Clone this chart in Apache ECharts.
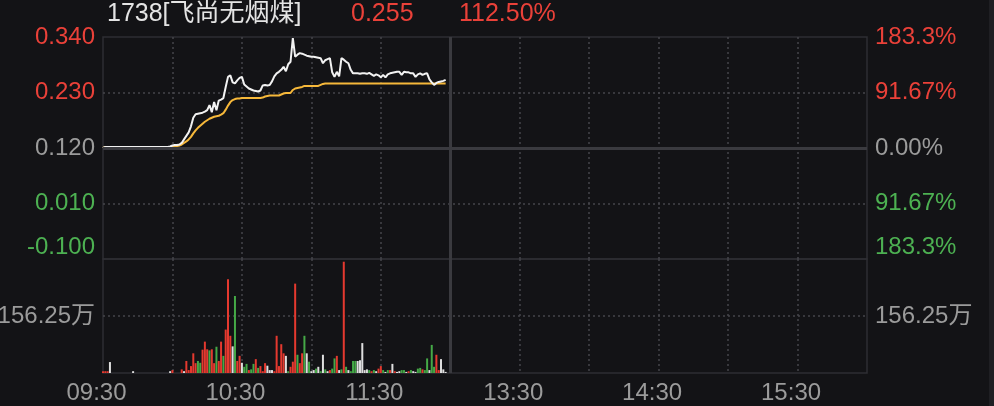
<!DOCTYPE html>
<html><head><meta charset="utf-8">
<script src="https://cdn.jsdelivr.net/npm/echarts@6/dist/echarts.min.js"></script>
<style>html,body{margin:0;padding:0;background:#131316;}#c{width:994px;height:406px;}</style>
</head><body><div id="c"></div>
<script>
// ---------- data ----------
const stockName = '1738[飞尚无烟煤]';
const prevClose = 0.120;
const xTickLabels = ['09:30', '10:30', '11:30', '13:30', '14:30', '15:30'];
const priceAxis = { min: -0.100, max: 0.340, interval: 0.110 };
const volumeAxis = { min: 0, max: 3125000, interval: 1562500 };

// minute prices 09:30 ...
const price = [
  0.120,
  0.122,0.122,0.122,0.122,0.122,0.122,0.122,0.122,0.122,0.122,
  0.122,0.122,0.122,0.122,0.122,0.122,0.122,0.122,0.122,0.122,
  0.122,0.122,0.122,0.122,0.122,0.122,0.122,0.122,
  0.123,0.125,0.126,0.126,0.127,0.130,0.137,0.144,0.151,0.163,
  0.180,0.187,0.188,0.189,0.190,0.192,0.195,0.205,0.191,0.211,
  0.195,0.214,0.216,0.219,0.241,0.261,0.264,0.250,0.248,0.254,
  0.259,0.261,0.246,0.242,0.238,0.236,0.234,0.233,0.232,0.234,
  0.244,0.245,0.244,0.245,0.252,0.262,0.268,0.271,0.275,0.281,
  0.272,0.286,0.291,0.338,0.301,0.305,0.308,0.307,0.305,0.303,
  0.302,0.301,0.301,0.300,0.299,0.298,0.288,0.294,0.296,0.298,
  0.270,0.261,0.271,0.262,0.298,0.295,0.291,0.288,0.275,0.268,
  0.268,0.268,0.267,0.268,0.268,0.267,0.269,0.266,0.263,0.266,
  0.264,0.260,0.265,0.260,0.266,0.268,0.269,0.270,0.271,0.271,
  0.265,0.271,0.270,0.270,0.268,0.268,0.261,0.266,0.268,0.265,
  0.267,0.268,0.256,0.250,0.245,0.249,0.251,0.252,0.253,0.255
];

// average price line
const avgPrice = [
  0.120,
  0.122,0.122,0.122,0.122,0.122,0.122,0.122,0.122,0.122,0.122,
  0.122,0.122,0.122,0.122,0.122,0.122,0.122,0.122,0.122,0.122,
  0.122,0.122,0.122,0.122,0.122,0.122,0.122,0.122,0.122,
  0.123,0.123,0.124,0.125,0.127,0.130,0.133,0.137,0.142,0.149,
  0.155,0.160,0.164,0.168,0.172,0.175,0.178,0.180,0.182,0.183,
  0.184,0.186,0.189,0.196,0.204,0.211,0.215,0.217,0.218,0.218,
  0.219,0.219,0.219,0.219,0.219,0.219,0.219,0.219,0.219,
  0.220,0.222,0.223,
  0.224,0.224,0.224,0.224,0.224,
  0.226,0.228,0.229,0.229,0.229,0.235,0.238,0.239,0.240,0.241,
  0.243,0.243,0.243,0.243,0.243,0.243,0.243,
  0.245,0.247,
  0.248,0.248,0.248,0.248,0.248,0.248,0.248,0.248,0.248,0.248,
  0.248,0.248,0.248,0.248,0.248,0.248,0.248,0.248,0.248,0.248,
  0.248,0.248,0.248,0.248,0.248,0.248,0.248,0.248,0.248,0.248,
  0.248,0.248,0.248,0.248,0.248,0.248,0.248,0.248,0.248,0.248,
  0.248,0.248,0.248,0.248,0.248,0.248,0.248,0.248,0.248,0.248,
  0.248,0.248,0.248
];

// volume per minute, in 万 (10,000 shares)
const volume = [
  5,5,5,30,0,0,0,0,0,0,
  0,0,0,5,0,0,0,0,0,0,
  0,0,0,0,0,0,0,0,0,5,
  8,0,0,0,10,5,33,8,19,54,
  27,33,28,64,86,65,62,65,27,72,
  33,86,47,119,257,102,73,211,33,47,
  28,17,25,8,10,25,38,14,19,5,
  27,20,8,8,5,102,19,79,54,47,
  5,17,31,245,50,27,54,102,54,31,
  5,8,12,17,5,50,10,5,8,12,
  40,47,8,10,305,17,8,5,33,33,
  33,35,82,8,10,8,5,8,5,12,
  19,8,3,8,8,25,5,3,5,8,
  8,3,5,8,5,3,12,14,10,8,
  40,8,77,17,50,8,38,10,3
];
// r = up (red), g = down (green), w = unchanged (white)
const volumeDir = [
  'r','r','r','w','w','w','w','w','w','w',
  'w','w','w','w','w','w','w','w','w','w',
  'w','w','w','w','w','w','w','w','w','w',
  'r','w','w','w','r','w','r','r','r','r',
  'r','g','g','r','r','r','g','r','r','g',
  'r','r','g','r','r','r','w','g','r','r',
  'w','g','g','r','g','g','r','g','r','r',
  'r','w','w','w','r','r','r','r','r','w',
  'g','r','r','r','g','r','r','g','w','g',
  'w','w','g','w','g','w','g','w','r','g',
  'g','r','w','g','r','g','w','g','g','g',
  'w','w','w','w','w','g','r','g','w','r',
  'r','g','w','g','r','w','r','w','w','g',
  'g','w','r','g','w','w','g','g','r','g',
  'g','w','g','g','r','r','w','w','w'
];

// ---------- build ----------
function pad(n) { return (n < 10 ? '0' : '') + n; }
const categories = [];
for (let m = 9 * 60 + 30; m <= 12 * 60; m++) categories.push(pad(Math.floor(m / 60)) + ':' + pad(m % 60));
for (let m = 13 * 60 + 1; m <= 16 * 60; m++) categories.push(pad(Math.floor(m / 60)) + ':' + pad(m % 60));
const breakCat = categories[150];

const C = {
  bg: '#131316', red: '#ea4139', green: '#4db152', gray: '#9b9b9b', title: '#e4e4e4',
  border: '#2e2e33', dot: '#46464b', thick: '#3a3a3f', white: '#f2f2f2', yellow: '#f6b83a',
  barRed: '#e5392f', barGreen: '#45a947', barWhite: '#dedede'
};
const FONT = '"Liberation Sans", Arial, Helvetica, "Noto Sans CJK SC", sans-serif';
const dirColor = { r: C.barRed, g: C.barGreen, w: C.barWhite };

const lastPrice = price[price.length - 1];
const lastPct = (lastPrice - prevClose) / prevClose * 100;

const eps = 1e-6;
function priceCls(v, isMin) {
  if (v > prevClose + eps) return 'up';
  if (v < prevClose - eps) return isMin ? 'dnb' : 'dn';
  return 'flat';
}
function pctText(v) {
  const p = Math.abs(v - prevClose) / prevClose * 100;
  return (p >= 100 ? p.toFixed(1) : p.toFixed(2)) + '%';
}
const labelRich = {
  up: { color: C.red, fontSize: 24, fontFamily: FONT },
  flat: { color: C.gray, fontSize: 24, fontFamily: FONT },
  dn: { color: C.green, fontSize: 24, fontFamily: FONT },
  dnb: { color: C.green, fontSize: 24, fontFamily: FONT, padding: [0, 0, 24, 0] }
};
const hideLine = { show: false };
const xSplit = {
  show: true,
  interval: (idx) => idx % 30 === 0 && idx !== 0 && idx !== 150 && idx !== 330,
  lineStyle: { color: C.dot, width: 1.5, type: [2, 3] }
};
const T = 'rgba(0,0,0,0)';

const option = {
  backgroundColor: C.bg,
  animation: false,
  title: [
    { text: stockName, left: 107, top: 2, padding: 0, textStyle: { color: C.title, fontSize: 25, fontWeight: 'normal', fontFamily: FONT } },
    { text: lastPrice.toFixed(3), left: 351, top: 2, padding: 0, textStyle: { color: C.red, fontSize: 25, fontWeight: 'normal', fontFamily: FONT } },
    { text: lastPct.toFixed(2) + '%', left: 459, top: 2, padding: 0, textStyle: { color: C.red, fontSize: 25, fontWeight: 'normal', fontFamily: FONT } }
  ],
  graphic: [
    { type: 'rect', right: 0, top: 0, shape: { width: 5, height: 406 }, style: { fill: '#1f1f23' }, silent: true }
  ],
  grid: [
    { left: 103, right: 127, top: 37, height: 222, outerBoundsMode: 'none', containLabel: false,
      show: true, borderColor: C.border, borderWidth: 1.5, backgroundColor: 'transparent' },
    { left: 103, right: 127, top: 259, height: 114, outerBoundsMode: 'none', containLabel: false,
      show: true, borderColor: C.border, borderWidth: 1.5, backgroundColor: 'transparent' }
  ],
  xAxis: [
    { type: 'category', gridIndex: 0, data: categories, boundaryGap: false,
      axisLine: hideLine, axisTick: hideLine, axisLabel: { show: false }, splitLine: xSplit },
    { type: 'category', gridIndex: 1, data: categories, boundaryGap: false,
      axisLine: hideLine, axisTick: hideLine, splitLine: xSplit,
      axisLabel: { show: true, interval: (idx, val) => xTickLabels.indexOf(val) >= 0,
        color: C.gray, fontSize: 24, fontFamily: FONT, margin: 8, padding: [0, 13, 0, 0] } }
  ],
  yAxis: [
    { type: 'value', gridIndex: 0, position: 'left', min: priceAxis.min, max: priceAxis.max, interval: priceAxis.interval,
      axisLine: hideLine, axisTick: hideLine,
      splitLine: { show: true, lineStyle: { color: [T, C.dot, T, C.dot, T], width: 1.5, type: [2, 3] } },
      axisLabel: { margin: 8, fontSize: 24, fontFamily: FONT, rich: labelRich,
        formatter: (v) => '{' + priceCls(v, Math.abs(v - priceAxis.min) < eps) + '|' + v.toFixed(3) + '}' } },
    { type: 'value', gridIndex: 0, position: 'right', min: priceAxis.min, max: priceAxis.max, interval: priceAxis.interval,
      axisLine: hideLine, axisTick: hideLine, splitLine: { show: false },
      axisLabel: { margin: 8, fontSize: 24, fontFamily: FONT, rich: labelRich,
        formatter: (v) => '{' + priceCls(v, Math.abs(v - priceAxis.min) < eps) + '|' + pctText(v) + '}' } },
    { type: 'value', gridIndex: 1, position: 'left', min: volumeAxis.min, max: volumeAxis.max, interval: volumeAxis.interval,
      axisLine: hideLine, axisTick: hideLine,
      splitLine: { show: true, lineStyle: { color: [T, C.dot, T], width: 1.5, type: [2, 3] } },
      axisLabel: { margin: 8, fontSize: 24, fontFamily: FONT, color: C.gray,
        formatter: (v) => (v > 0 && v < volumeAxis.max) ? (v / 10000) + '万' : '' } },
    { type: 'value', gridIndex: 1, position: 'right', min: volumeAxis.min, max: volumeAxis.max, interval: volumeAxis.interval,
      axisLine: hideLine, axisTick: hideLine, splitLine: { show: false },
      axisLabel: { margin: 8, fontSize: 24, fontFamily: FONT, color: C.gray,
        formatter: (v) => (v > 0 && v < volumeAxis.max) ? (v / 10000) + '万' : '' } }
  ],
  series: [
    { name: 'avg', type: 'line', xAxisIndex: 0, yAxisIndex: 0, data: avgPrice, showSymbol: false, z: 2,
      lineStyle: { color: C.yellow, width: 2 }, itemStyle: { color: C.yellow },
      markLine: { silent: true, symbol: 'none', label: { show: false },
        lineStyle: { color: C.thick, width: 3, type: 'solid' },
        data: [{ yAxis: prevClose }, { xAxis: breakCat }] } },
    { name: 'price', type: 'line', xAxisIndex: 0, yAxisIndex: 0, data: price, showSymbol: false, z: 3,
      lineStyle: { color: C.white, width: 2 }, itemStyle: { color: C.white } },
    { name: 'volume', type: 'bar', xAxisIndex: 1, yAxisIndex: 2, barWidth: 2, z: 2,
      data: volume.map((v, i) => ({ value: v * 10000, itemStyle: { color: dirColor[volumeDir[i]] } })),
      markLine: { silent: true, symbol: 'none', label: { show: false },
        lineStyle: { color: C.thick, width: 3, type: 'solid' },
        data: [{ xAxis: breakCat }] } }
  ]
};
const chart = echarts.init(document.getElementById('c'), null, { renderer: 'canvas' });
chart.setOption(option);
</script></body></html>
